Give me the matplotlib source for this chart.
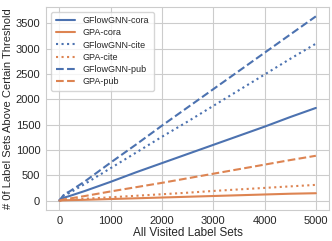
import matplotlib
matplotlib.use("Agg")
import matplotlib.pyplot as plt
import seaborn as sns

sns.set_style("whitegrid")
plt.rcParams['font.family'] = ['Liberation Sans', 'DejaVu Sans']

visited = [0, 100, 200, 500, 1000, 1500, 2000, 2500, 3000, 3500, 4000, 4500, 5000]

gflow_cora = [0, 60, 90, 190, 370, 560, 740, 920, 1100, 1280, 1460, 1650, 1830]
gpa_cora = [0, 5, 8, 15, 30, 45, 60, 75, 90, 105, 120, 135, 145]
gflow_cite = [0, 110, 150, 330, 640, 950, 1260, 1560, 1870, 2180, 2490, 2800, 3100]
gpa_cite = [0, 10, 15, 35, 65, 95, 125, 155, 190, 220, 250, 280, 310]
gflow_pub = [0, 130, 180, 380, 750, 1110, 1480, 1840, 2200, 2560, 2920, 3280, 3640]
gpa_pub = [0, 25, 40, 90, 180, 265, 350, 440, 530, 620, 710, 800, 885]

blue = '#4C72B0'
orange = '#DD8452'

fig, ax = plt.subplots(figsize=(3.32, 2.41), dpi=100)
ax.plot(visited, gflow_cora, color=blue, ls='-', lw=1.5, label='GFlowGNN-cora')
ax.plot(visited, gpa_cora, color=orange, ls='-', lw=1.5, label='GPA-cora')
ax.plot(visited, gflow_cite, color=blue, ls=':', lw=1.5, label='GFlowGNN-cite')
ax.plot(visited, gpa_cite, color=orange, ls=':', lw=1.5, label='GPA-cite')
ax.plot(visited, gflow_pub, color=blue, ls='--', lw=1.5, label='GFlowGNN-pub')
ax.plot(visited, gpa_pub, color=orange, ls='--', lw=1.5, label='GPA-pub')

ax.set_xlim(-250, 5250)
ax.set_ylim(-180, 3820)
ax.set_xticks([0, 1000, 2000, 3000, 4000, 5000])
ax.set_yticks([0, 500, 1000, 1500, 2000, 2500, 3000, 3500])
ax.tick_params(labelsize=8, pad=1)
ax.set_xlabel('All Visited Label Sets', fontsize=8.5, labelpad=1)
ax.set_ylabel('# 0f Label Sets Above Certain Threshold', fontsize=8, labelpad=2)
ax.legend(loc='upper left', fontsize=6.5, handlelength=2.2, borderpad=0.5,
          labelspacing=0.35)

fig.subplots_adjust(left=0.14, right=0.99, top=0.97, bottom=0.13)
fig.savefig('out.png', dpi=100)
